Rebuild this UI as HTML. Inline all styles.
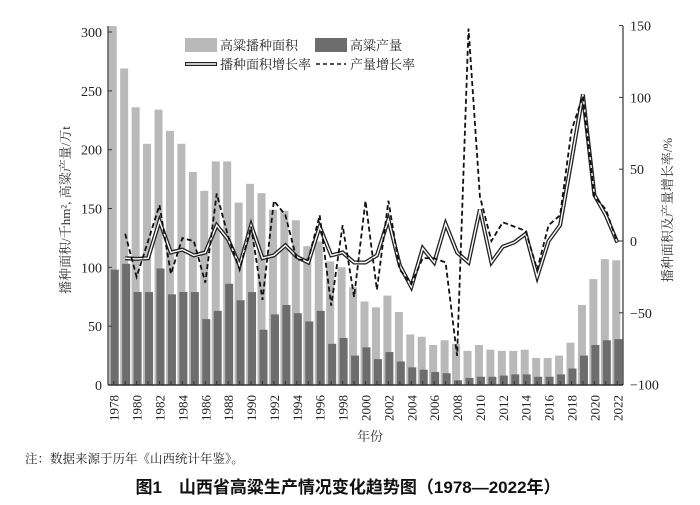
<!DOCTYPE html>
<html><head><meta charset="utf-8"><style>
html,body{margin:0;padding:0;background:#fff;}
svg{display:block;font-family:"Liberation Serif","Noto Serif CJK SC",serif;}
</style></head><body>
<svg id="s" width="700" height="505" viewBox="0 0 700 505" xmlns="http://www.w3.org/2000/svg"></svg>
<script>
const area=[305,269,236,205,234,216,205,181,165,190,190,155,171,163,149,148,140,118,122,105,100,83,71,66,76,62,43,41,34,38,35,29,34,30,29,29,30,23,23,25,36,68,90,107,106];
const prod=[98,103,79,79,99,77,79,79,56,63,86,72,79,47,60,68,61,54,63,35,40,25,32,22,28,20,15,13,11,10,4,6,7,7,8,9,9,7,7,9,14,25,34,38,39];
const ag=[null,-12,-12.5,-12,14,-8,-6,-10,-8,11,1,-17,11,-12,-10,-3,-11,-15,10,-10,-8,-15,-15,-10,15,-17,-32,-5,-15,12,-8,-15,22,-15,-4,-1,5,-25,0,11,56,102,32,18,-1];
const pg=[null,5,-25,0,25,-23,2,0,-29,33,3,-20,10,-41,28,18,-13,-13,18,-45,11,-39,28,-34,28,-20,-30,-12,-12,-15,-80,148,31,0,13,10,7,-20,11,18,77,101,31,22,-1];
const L=108,R=623,W=(R-L)/45;
const yl=v=>385-v*353/300, yr=v=>241-v*1.436;
const cx=i=>L+W*(i+0.5);
let h='';
for(let i=0;i<45;i++){
 h+=`<rect x="${cx(i)-5}" y="${yl(area[i])}" width="8" height="${385-yl(area[i])}" fill="#b9b9b9"/>`;
 h+=`<rect x="${cx(i)-3}" y="${yl(prod[i])}" width="8" height="${385-yl(prod[i])}" fill="#6d6d6d"/>`;
}
const pts=a=>a.map((v,i)=>v==null?null:`${cx(i).toFixed(1)},${yr(v).toFixed(1)}`).filter(x=>x).join(' ');
h+=`<polyline points="${pts(ag)}" fill="none" stroke="#222" stroke-width="4" stroke-linejoin="miter"/>`;
h+=`<polyline points="${pts(ag)}" fill="none" stroke="#fff" stroke-width="1.4"/>`;
h+=`<polyline points="${pts(pg)}" fill="none" stroke="#111" stroke-width="1.8" stroke-dasharray="5,3"/>`;
h+=`<line x1="${L}" y1="26" x2="${L}" y2="385" stroke="#333" stroke-width="1.2"/>`;
h+=`<line x1="${R}" y1="26" x2="${R}" y2="385" stroke="#333" stroke-width="1.2"/>`;
h+=`<line x1="${L}" y1="385" x2="${R}" y2="385" stroke="#333" stroke-width="1.5"/>`;
for(let v=0;v<=300;v+=50){h+=`<line x1="${L}" x2="${L+4}" y1="${yl(v)}" y2="${yl(v)}" stroke="#333"/><text x="${L-6}" y="${yl(v)+5}" font-size="14" text-anchor="end" fill="#222">${v}</text>`;}
for(let v=-100;v<=150;v+=50){h+=`<line x1="${R}" x2="${R-4}" y1="${yr(v)}" y2="${yr(v)}" stroke="#333"/><text x="${R+7}" y="${yr(v)+5}" font-size="14" fill="#222">${v<0?'−'+(-v):v}</text>`;}
for(let i=0;i<45;i++){h+=`<line x1="${cx(i)}" x2="${cx(i)}" y1="385" y2="381" stroke="#333"/>`;
 if(i%2==0){h+=`<text transform="translate(${cx(i)+5},395) rotate(-90)" font-size="13" text-anchor="end" fill="#222">${1978+i}</text>`;}}
h+=`<text x="370" y="441" font-size="13" text-anchor="middle" fill="#333">年份</text>`;
h+=`<text transform="translate(70,210) rotate(-90)" font-size="13" text-anchor="middle" fill="#333">播种面积/千hm², 高粱产量/万t</text>`;
h+=`<text transform="translate(672,210) rotate(-90)" font-size="13" text-anchor="middle" fill="#333">播种面积及产量增长率/%</text>`;
h+=`<rect x="185" y="38" width="32" height="14" fill="#b9b9b9"/><text x="220" y="50" font-size="13" fill="#222">高粱播种面积</text>`;
h+=`<rect x="315" y="38" width="32" height="14" fill="#6d6d6d"/><text x="350" y="50" font-size="13" fill="#222">高粱产量</text>`;
h+=`<line x1="185" x2="217" y1="64" y2="64" stroke="#222" stroke-width="4"/><line x1="186" x2="216" y1="64" y2="64" stroke="#fff" stroke-width="1.4"/><text x="220" y="69" font-size="13" fill="#222">播种面积增长率</text>`;
h+=`<line x1="316" x2="346" y1="64" y2="64" stroke="#111" stroke-width="1.6" stroke-dasharray="4,3"/><text x="350" y="69" font-size="13" fill="#222">产量增长率</text>`;
h+=`<text x="25" y="463" font-size="12.5" fill="#222">注：数据来源于历年《山西统计年鉴》。</text>`;
h+=`<text x="348" y="493" font-size="17" font-weight="bold" text-anchor="middle" fill="#111" font-family="Liberation Sans,Noto Sans CJK SC,sans-serif">图1　山西省高粱生产情况变化趋势图（1978—2022年）</text>`;
document.getElementById('s').innerHTML=h;
</script>
</body></html>
